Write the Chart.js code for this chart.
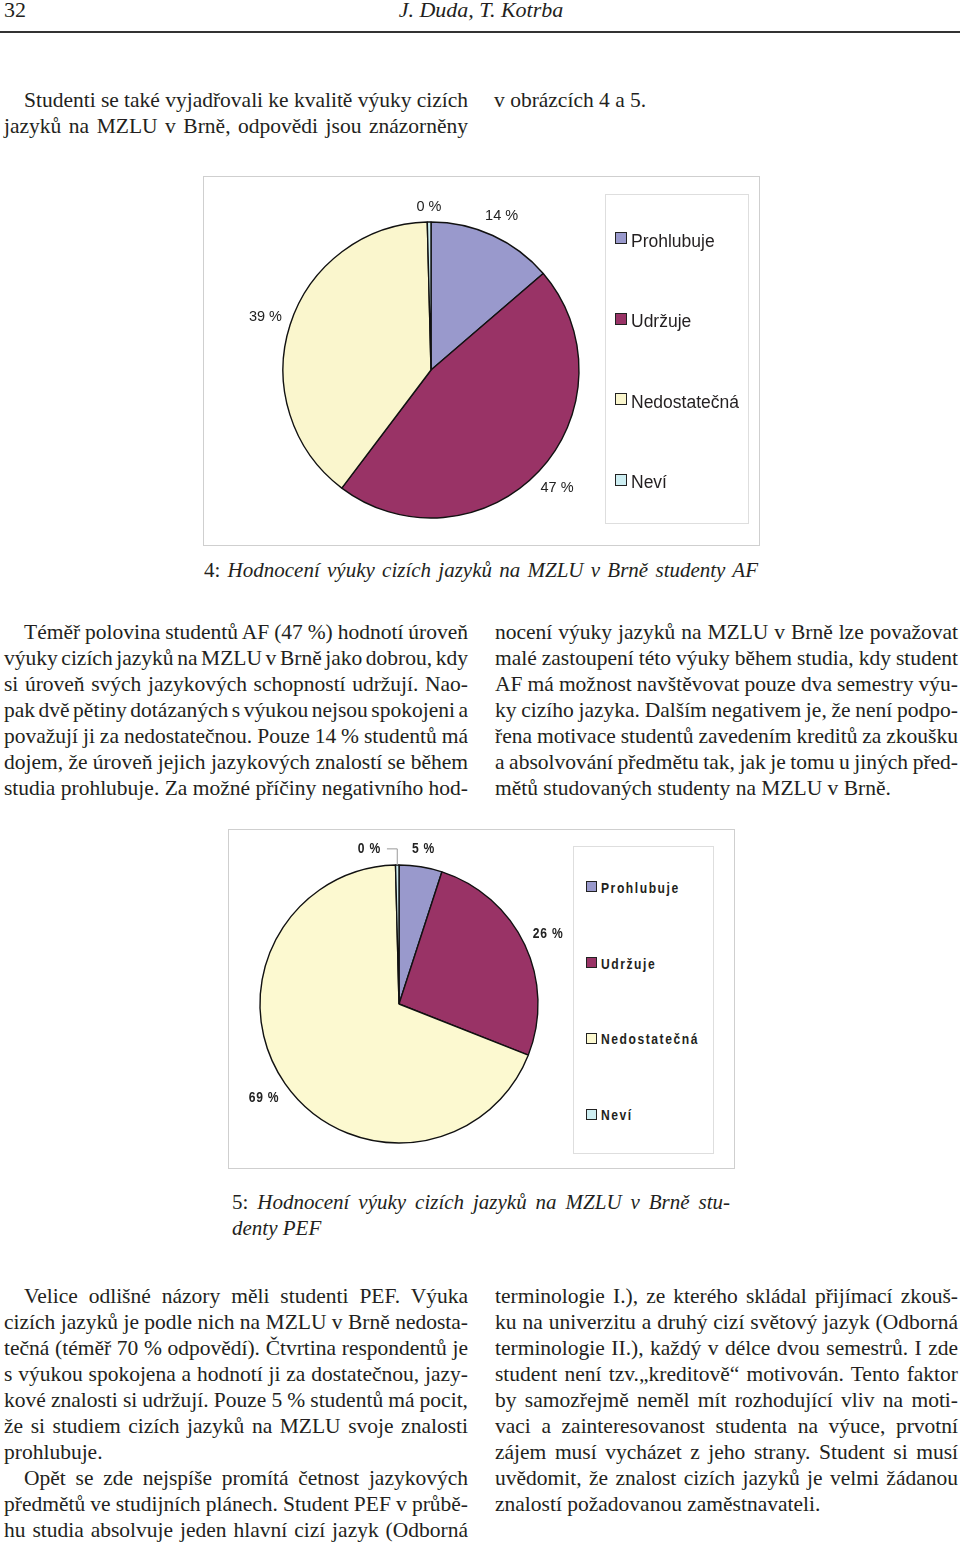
<!DOCTYPE html>
<html>
<head>
<meta charset="utf-8">
<script src="https://cdn.jsdelivr.net/npm/chart.js@4.4.1/dist/chart.umd.min.js"></script>
<style>
  html, body { margin: 0; padding: 0; background: #fff; }
  body {
    width: 960px; height: 1544px; position: relative; overflow: hidden;
    font-family: "Liberation Serif", "Times New Roman", serif; color: #231f20;
  }
  .abs { position: absolute; }
  .col { position: absolute; font-size: 21.5px; line-height: 26px; }
  .col div { white-space: nowrap; }
  .j { text-align: justify; text-align-last: justify; word-spacing: -3px; }
  .ind { padding-left: 20px; }
  .rule { position: absolute; left: 0; top: 31px; width: 960px; height: 2px; background: #333; }
  .box { position: absolute; box-sizing: border-box; border: 1.5px solid #cfcfcf; }
  .lbox {
    position: absolute; box-sizing: border-box; border: 1px solid #dedede;
    display: flex; flex-direction: column; justify-content: space-around;
  }
  .item { display: flex; align-items: center; white-space: nowrap; }
  .sw { box-sizing: border-box; border: 1.5px solid #222; flex: none; }
  .lg1 { font-family: "Liberation Sans", Arial, sans-serif; font-size: 17.5px; }
  .lg1 .sw { width: 12px; height: 12px; margin-right: 4px; margin-top: -6px; }
  .lg2 { font-family: "Liberation Sans", Arial, sans-serif; font-weight: bold; font-size: 15.5px; letter-spacing: 2px; }
  .lg2 .sw { width: 11px; height: 11px; margin-right: 4px; margin-top: -2px; }
  .lg2 .tx { display: inline-block; transform: scaleX(0.78); transform-origin: left center; }
  canvas { position: absolute; }
  .cap { position: absolute; font-size: 21px; line-height: 26px; }
  .cap i { font-style: italic; }
</style>
</head>
<body>

<div class="abs" style="left:4px;top:-1px;font-size:22px;line-height:22px;">32</div>
<div class="abs" style="left:0;top:-1px;width:962px;text-align:center;font-size:22px;line-height:22px;font-style:italic;">J. Duda, T. Kotrba</div>
<div class="rule"></div>

<div class="col" style="left:4px;top:87px;width:464px;">
  <div class="j ind">Studenti se také vyjadřovali ke kvalitě výuky cizích</div>
  <div class="j">jazyků na MZLU v Brně, odpovědi jsou znázorněny</div>
</div>
<div class="col" style="left:494px;top:87px;width:464px;">
  <div>v obrázcích 4 a 5.</div>
</div>

<!-- figure 4 -->
<div class="box" style="left:203px;top:176px;width:557px;height:370px;"></div>
<canvas id="afChart" width="400" height="360" style="left:231px;top:190px;width:400px;height:360px;"></canvas>
<div id="afLegend" class="lbox lg1" style="left:605px;top:194px;width:144px;height:330px;padding:6px 0 0 9px;"></div>
<div class="cap" style="left:204px;top:557px;width:554px;text-align:justify;text-align-last:justify;">4: <i>Hodnocení výuky cizích jazyků na MZLU v Brně studenty AF</i></div>

<div class="col" style="left:4px;top:619px;width:464px;">
  <div class="j ind">Téměř polovina studentů AF (47 %) hodnotí úroveň</div>
  <div class="j">výuky cizích jazyků na MZLU v Brně jako dobrou, kdy</div>
  <div class="j">si úroveň svých jazykových schopností udržují. Nao-</div>
  <div class="j">pak dvě pětiny dotázaných s výukou nejsou spokojeni a</div>
  <div class="j">považují ji za nedostatečnou. Pouze 14 % studentů má</div>
  <div class="j">dojem, že úroveň jejich jazykových znalostí se během</div>
  <div class="j">studia prohlubuje. Za možné příčiny negativního hod-</div>
</div>
<div class="col" style="left:495px;top:619px;width:463px;">
  <div class="j">nocení výuky jazyků na MZLU v Brně lze považovat</div>
  <div class="j">malé zastoupení této výuky během studia, kdy student</div>
  <div class="j">AF má možnost navštěvovat pouze dva semestry výu-</div>
  <div class="j">ky cizího jazyka. Dalším negativem je, že není podpo-</div>
  <div class="j">řena motivace studentů zavedením kreditů za zkoušku</div>
  <div class="j">a absolvování předmětu tak, jak je tomu u jiných před-</div>
  <div>mětů studovaných studenty na MZLU v Brně.</div>
</div>

<!-- figure 5 -->
<div class="box" style="left:228px;top:829px;width:507px;height:340px;"></div>
<canvas id="pefChart" width="340" height="340" style="left:229px;top:834px;width:340px;height:340px;"></canvas>
<div id="pefLegend" class="lbox lg2" style="left:573px;top:846px;width:141px;height:308px;padding:3px 0 0 12px;"></div>
<div class="cap" style="left:232px;top:1189px;width:498px;">
  <div style="text-align:justify;text-align-last:justify;white-space:nowrap;">5: <i>Hodnocení výuky cizích jazyků na MZLU v Brně stu-</i></div>
  <div><i>denty PEF</i></div>
</div>

<div class="col" style="left:4px;top:1283px;width:464px;">
  <div class="j ind">Velice odlišné názory měli studenti PEF. Výuka</div>
  <div class="j">cizích jazyků je podle nich na MZLU v Brně nedosta-</div>
  <div class="j">tečná (téměř 70 % odpovědí). Čtvrtina respondentů je</div>
  <div class="j">s výukou spokojena a hodnotí ji za dostatečnou, jazy-</div>
  <div class="j">kové znalosti si udržují. Pouze 5 % studentů má pocit,</div>
  <div class="j">že si studiem cizích jazyků na MZLU svoje znalosti</div>
  <div>prohlubuje.</div>
  <div class="j ind">Opět se zde nejspíše promítá četnost jazykových</div>
  <div class="j">předmětů ve studijních plánech. Student PEF v průbě-</div>
  <div class="j">hu studia absolvuje jeden hlavní cizí jazyk (Odborná</div>
</div>
<div class="col" style="left:495px;top:1283px;width:463px;">
  <div class="j">terminologie I.), ze kterého skládal přijímací zkouš-</div>
  <div class="j">ku na univerzitu a druhý cizí světový jazyk (Odborná</div>
  <div class="j">terminologie II.), každý v délce dvou semestrů. I zde</div>
  <div class="j">student není tzv.„kreditově“ motivován. Tento faktor</div>
  <div class="j">by samozřejmě neměl mít rozhodující vliv na moti-</div>
  <div class="j">vaci a zainteresovanost studenta na výuce, prvotní</div>
  <div class="j">zájem musí vycházet z jeho strany. Student si musí</div>
  <div class="j">uvědomit, že znalost cizích jazyků je velmi žádanou</div>
  <div>znalostí požadovanou zaměstnavateli.</div>
</div>

<script>
// answer categories, same for both figures
const categories = ["Prohlubuje", "Udržuje", "Nedostatečná", "Neví"];
// shares of answers in %
const afShares = [13.7, 46.6, 39.3, 0.4];
const pefShares = [5.0, 26.0, 68.6, 0.4];

const afColors = ["#9999cc", "#993366", "#faf6cd", "#cdeef2"];
const pefColors = ["#9999cc", "#993366", "#fcf9d0", "#cdeef2"];

// percent labels outside the pie, pushed aside with a leader line when they collide
const outsideLabels = {
  id: "outsideLabels",
  afterDatasetsDraw(chart, args, opts) {
    const ctx = chart.ctx;
    const ds = chart.data.datasets[0];
    const total = ds.data.reduce((a, b) => a + b, 0);
    const arcs = chart.getDatasetMeta(0).data;
    const sx = opts.scaleX || 1;
    const placed = [];
    ctx.save();
    ctx.font = opts.font;
    if ("letterSpacing" in ctx) ctx.letterSpacing = opts.spacing || "0px";
    ctx.textAlign = "center";
    ctx.textBaseline = "middle";
    arcs.forEach((arc, i) => {
      const p = arc.getProps(["x", "y", "startAngle", "endAngle", "outerRadius"], true);
      const mid = (p.startAngle + p.endAngle) / 2;
      const cos = Math.cos(mid), sin = Math.sin(mid);
      const text = Math.round(ds.data[i] / total * 100) + " %";
      const w = ctx.measureText(text).width * sx;
      const h = opts.size;
      const d = p.outerRadius + opts.pad + Math.abs(cos) * w / 2 + Math.abs(sin) * h / 2;
      let lx = p.x + cos * d;
      const ly = p.y + sin * d;
      let moved = false;
      placed.forEach((r) => {
        if (Math.abs(lx - r.x) < (w + r.w) / 2 + opts.gap && Math.abs(ly - r.y) < (h + r.h) / 2) {
          const shift = (w + r.w) / 2 + opts.gap + opts.leader;
          lx = cos <= 0 ? r.x - shift : r.x + shift;
          moved = true;
        }
      });
      if (moved) {
        const ax = p.x + cos * p.outerRadius;
        const ay = p.y + sin * p.outerRadius;
        const startX = cos <= 0 ? lx + w / 2 + 6 : lx - w / 2 - 6;
        ctx.strokeStyle = opts.leaderColor;
        ctx.lineWidth = 1;
        ctx.beginPath();
        ctx.moveTo(startX, ly);
        ctx.lineTo(ax, ly);
        ctx.lineTo(ax, ay);
        ctx.stroke();
      }
      ctx.fillStyle = opts.color;
      ctx.save();
      ctx.translate(lx, ly);
      ctx.scale(sx, 1);
      ctx.fillText(text, 0, 0);
      ctx.restore();
      placed.push({ x: lx, y: ly, w: w, h: h });
    });
    ctx.restore();
  },
};

function makePie(id, values, colors, radius, labelOpts) {
  const ctx = document.getElementById(id).getContext("2d");
  return new Chart(ctx, {
    type: "pie",
    data: {
      labels: categories,
      datasets: [{
        data: values,
        backgroundColor: colors,
        borderColor: "#111",
        borderWidth: 1.4,
        radius: radius,
      }],
    },
    options: {
      responsive: false,
      animation: false,
      layout: { padding: 0 },
      plugins: {
        legend: { display: false },
        tooltip: { enabled: false },
        outsideLabels: labelOpts,
      },
    },
    plugins: [outsideLabels],
  });
}

function buildLegend(id, colors) {
  const box = document.getElementById(id);
  categories.forEach((name, i) => {
    const item = document.createElement("div");
    item.className = "item";
    const sw = document.createElement("span");
    sw.className = "sw";
    sw.style.background = colors[i];
    const tx = document.createElement("span");
    tx.className = "tx";
    tx.textContent = name;
    item.appendChild(sw);
    item.appendChild(tx);
    box.appendChild(item);
  });
}

makePie("afChart", afShares, afColors, 148, {
  font: '14.5px "Liberation Sans", Arial, sans-serif',
  size: 14, color: "#222", pad: 8, gap: 6, leader: 25, leaderColor: "#999",
});
makePie("pefChart", pefShares, pefColors, 139, {
  font: 'bold 15.5px "Liberation Sans", Arial, sans-serif',
  spacing: "1px", scaleX: 0.78,
  size: 14, color: "#222", pad: 9, gap: 6, leader: 25, leaderColor: "#999",
});
buildLegend("afLegend", afColors);
buildLegend("pefLegend", pefColors);
</script>
</body>
</html>
